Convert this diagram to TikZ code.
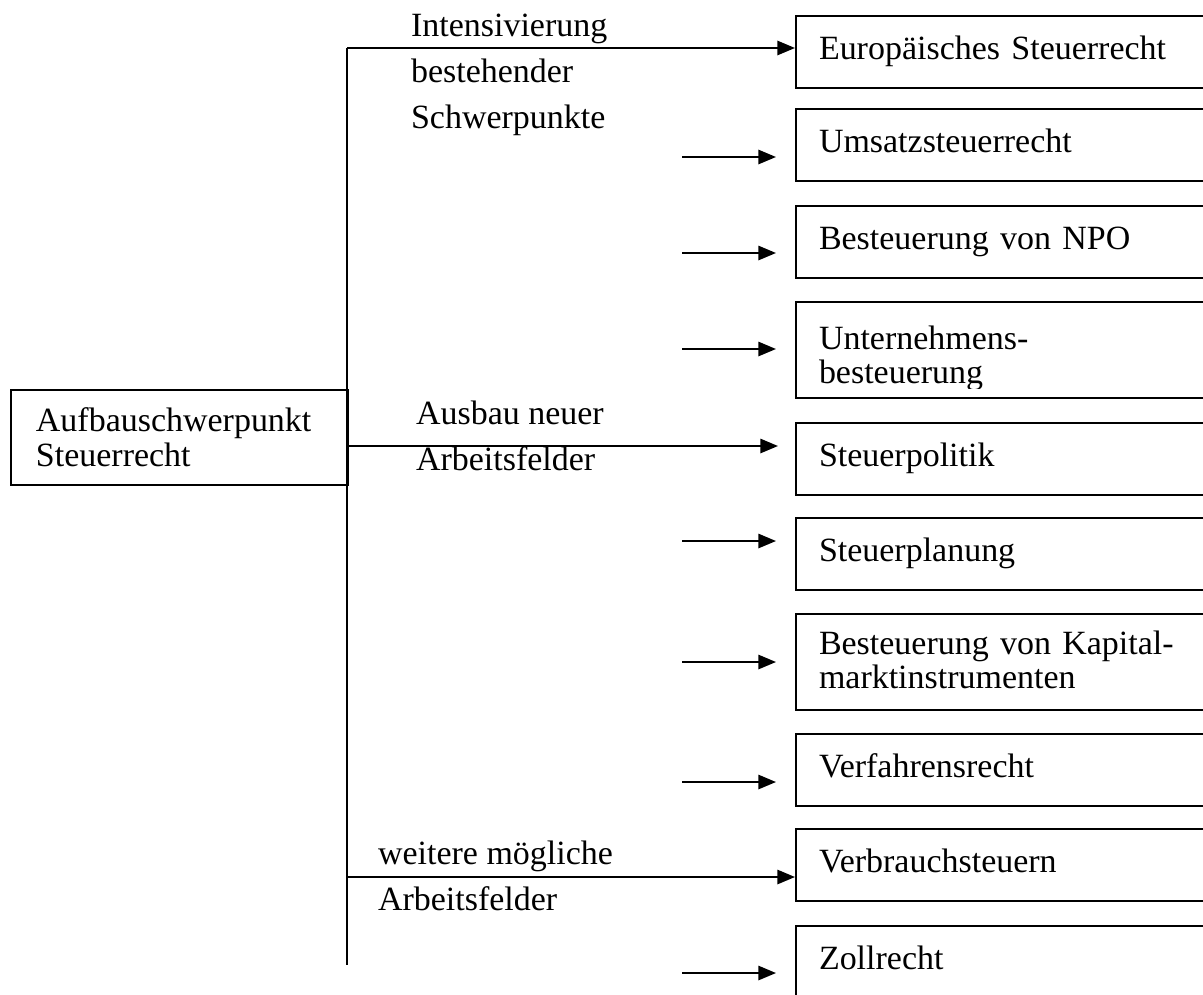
\documentclass[tikz,border=0pt]{standalone}
\usepackage{fontspec}
\setmainfont{Liberation Serif}
\usetikzlibrary{arrows.meta}
\usetikzlibrary{calc}

\begin{document}
\begin{tikzpicture}[x=0.3533pt, y=-0.3533pt, line width=0.75pt,
	>={Triangle[length=6.2pt, width=5pt]},
	font=\fontsize{12pt}{12.2pt}\selectfont,
	topic/.style={draw, anchor=north west, text width=132.2pt, align=left, inner xsep=8.1pt, inner ysep=0pt, text height=15.2pt, text depth=10.2pt},
	topictall/.style={draw, anchor=north west, text width=132.2pt, align=left, inner xsep=8.1pt, inner ysep=0pt, text height=#1, text depth=33.9pt-#1},
	branchlabel/.style={anchor=north west, inner sep=0pt, align=left, font=\fontsize{12pt}{16.3pt}\selectfont}]

	\useasboundingbox (0,0) rectangle (1203,994);

	% root box
	\node[draw, anchor=north west, text width=101.4pt, align=left, inner xsep=8.8pt, minimum height=33.6pt, font=\fontsize{12pt}{12.4pt}\selectfont] (root) at (10,389) {Aufbauschwerpunkt\\Steuerrecht};

	% topic boxes (cut off at the right margin)
	\node[topic] (eu) at (795,15) {Europäisches Steuerrecht};
	\node[topic] (us) at (795,108) {Umsatzsteuerrecht};
	\node[topic] (npo) at (795,205) {Besteuerung von NPO};
	\node[topictall=16.6pt] (ub) at (795,301) {Unternehmens-\\besteuerung};
	\node[topic] (sp) at (795,422) {Steuerpolitik};
	\node[topic] (spl) at (795,517) {Steuerplanung};
	\node[topictall=14.2pt] (km) at (795,613) {\makebox[123.5pt][s]{Besteuerung von Kapital-}\\marktinstrumenten};
	\node[topic] (vr) at (795,733) {Verfahrensrecht};
	\node[topic] (vb) at (795,828) {Verbrauchsteuern};
	\node[topic] (zr) at (795,925) {Zollrecht};

	% text overflows its box: cut off the descender
	\fill[white] ($(ub.south west)+(2,-10)$) rectangle ($(ub.south east)+(-2,-1.6)$);

	% trunk
	\coordinate (t1) at (347,48);
	\coordinate (t2) at (347,446);
	\coordinate (t3) at (347,877);
	\coordinate (tend) at (347,965);
	\draw (t1) -- (tend);

	% branches
	\draw[->] (t1) -- (t1 -| eu.west);
	\coordinate (sp-in) at (778,446);
	\draw[->] (t2) -- (sp-in);
	\draw[->] (t3) -- (t3 -| vb.west);

	% short arrows
	\foreach \n/\y in {us/157, npo/253, ub/349, spl/541, km/662, vr/782, zr/973} {
		\coordinate (\n-a) at (682,\y);
		\coordinate (\n-b) at (776,\y);
		\draw[->] (\n-a) -- (\n-b);
	}

	% branch labels
	\node[branchlabel] (lab1) at (410,13) {Intensivierung\\bestehender\\Schwerpunkte};
	\node[branchlabel] (lab2) at (415,400) {Ausbau neuer\\Arbeitsfelder};
	\node[branchlabel] (lab3) at (377,840) {weitere mögliche\\Arbeitsfelder};

\end{tikzpicture}
\end{document}
